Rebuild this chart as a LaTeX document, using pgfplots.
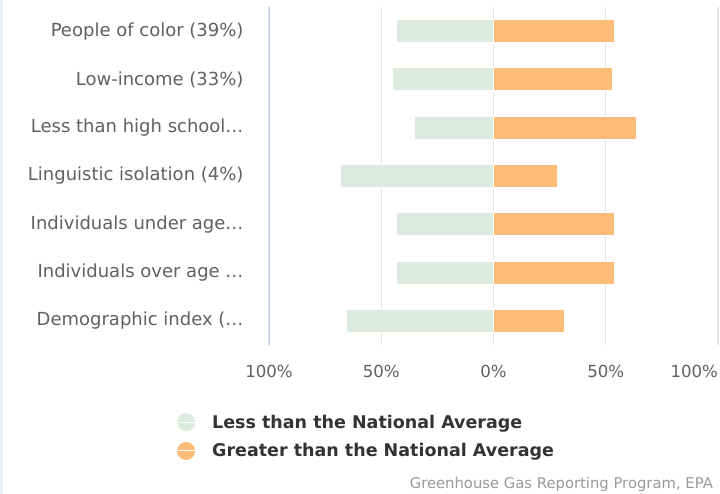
\documentclass[border=0pt]{standalone}
\usepackage{fontspec}
\setmainfont{DejaVu Sans}
\usepackage{pgfplots}
\pgfplotsset{compat=1.18}

\definecolor{lessgreen}{HTML}{DCEBDF}
\definecolor{moreorange}{HTML}{FFBB78}
\definecolor{gridgray}{HTML}{E6E6E6}
\definecolor{axisblue}{HTML}{CCD6EB}
\definecolor{labelgray}{HTML}{606060}
\definecolor{legendtext}{HTML}{333333}
\definecolor{srcgray}{HTML}{999999}
\definecolor{stripblue}{HTML}{E3F1FB}

% one row per category, top to bottom
\pgfplotstableread{
idx less greater
0 -43 54
1 -45 53
2 -35 63.5
3 -68 28.5
4 -43 54
5 -43 54
6 -65.3 31.5
}\demog

\begin{document}
\begin{tikzpicture}
\begin{axis}[
  scale only axis,
  width=449pt, height=338pt,
  clip=false,
  xbar, bar width=23pt, bar shift=0pt,
  xmin=-100, xmax=100,
  ymin=-0.5, ymax=6.5, y dir=reverse,
  xtick={-100,-50,0,50,100},
  xticklabels={100\%,50\%,0\%,50\%,\makebox[0pt][r]{100\%}},
  ytick={0,...,6},
  yticklabels={People of color (39\%),Low-income (33\%),Less than high school…,Linguistic isolation (4\%),Individuals under age…,Individuals over age …,Demographic index (…},
  major tick length=0pt,
  xmajorgrids,
  grid style={gridgray, line width=1.3pt},
  axis x line*=bottom, axis y line*=left,
  x axis line style={draw=none},
  y axis line style={axisblue, line width=1.3pt},
  xticklabel style={font=\fontsize{16.6}{19}\selectfont, text=labelgray, yshift=-17pt},
  yticklabel style={font=\fontsize{18}{21}\selectfont, text=labelgray, xshift=-22pt},
  legend style={draw=none, fill=none, at={(-0.205,-0.2)}, anchor=north west,
    font=\bfseries\fontsize{17.5}{20}\selectfont, text=legendtext,
    row sep=10pt, cells={anchor=west}, inner sep=0pt},
]
\addplot[fill=lessgreen, draw=white, line width=1pt,
  legend image code/.code={\fill[lessgreen] (8.5pt,0pt) circle (8.5pt); \path (0pt,0pt) -- (32pt,0pt);}]
  table[x=less, y=idx] {\demog};
\addlegendentry{Less than the National Average}
\addplot[fill=moreorange, draw=white, line width=1pt,
  legend image code/.code={\fill[moreorange] (8.5pt,0pt) circle (8.5pt); \path (0pt,0pt) -- (32pt,0pt);}]
  table[x=greater, y=idx] {\demog};
\addlegendentry{Greater than the National Average}
\node[anchor=east, inner sep=0pt, font=\fontsize{14.8}{17}\selectfont, text=srcgray]
  at (axis description cs:0.989,-0.411) {Greenhouse Gas Reporting Program, EPA};
\end{axis}
\fill[stripblue] (-269pt,-149pt) rectangle (-265.5pt,345pt);
\pgfresetboundingbox
\useasboundingbox (-269pt,-149pt) rectangle (451pt,345pt);
\end{tikzpicture}
\end{document}
